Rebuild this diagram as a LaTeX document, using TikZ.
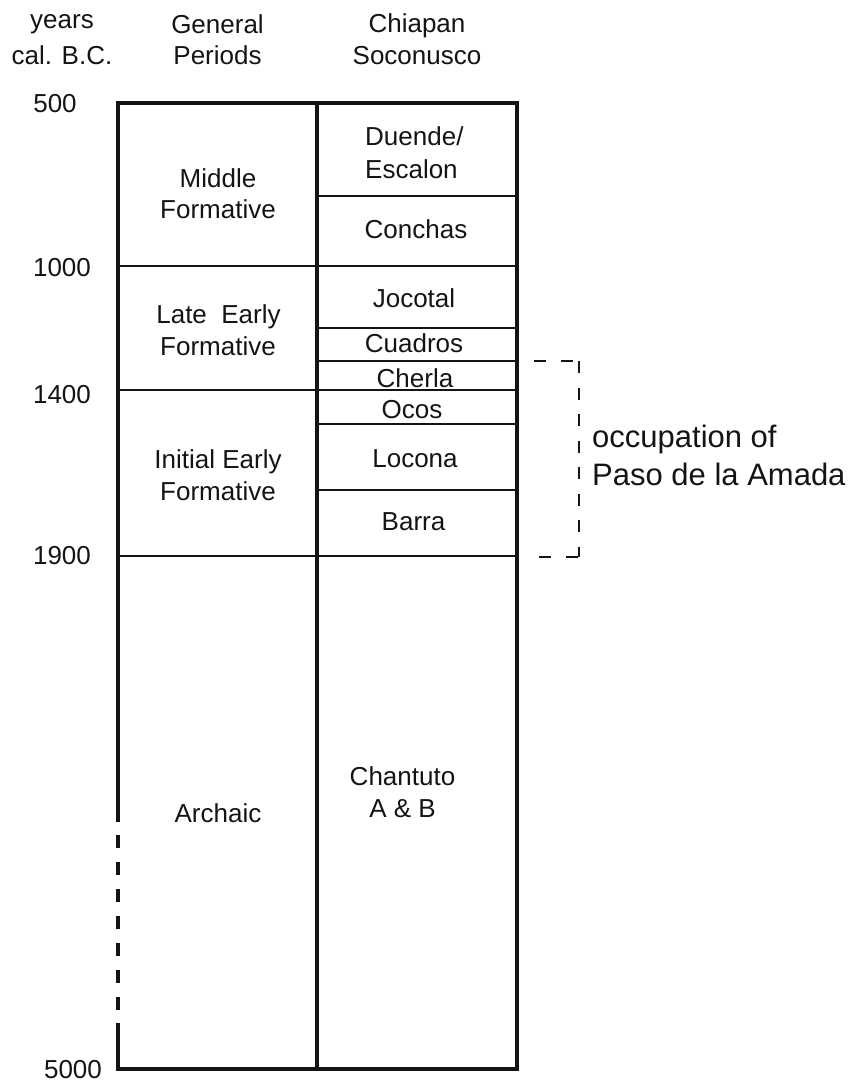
\documentclass[tikz,border=0pt]{standalone}
\usepackage{fontspec}
\setmainfont{Liberation Sans}
\begin{document}
\begin{tikzpicture}[x=1pt,y=-1pt,
  frame/.style={line width=4pt, line join=miter, black!92},
  rule/.style={line width=2pt, black!92},
  dashedframe/.style={line width=4pt, black!92, dash pattern=on 13pt off 14pt},
  bracketline/.style={line width=2pt, black!92, dash pattern=on 12pt off 14.5pt},
  lbl/.style={font=\fontsize{26pt}{31pt}\selectfont, inner sep=0pt, anchor=base, text=black!92},
  biglbl/.style={font=\fontsize{31pt}{38pt}\selectfont, inner sep=0pt, anchor=base west, text=black!92}]
\useasboundingbox (0,0) rectangle (859,1084);
% frame coordinates
\coordinate (TL) at (118,103);
\coordinate (TM) at (317,103);
\coordinate (TR) at (517,103);
\coordinate (BL) at (118,1069);
\coordinate (BM) at (317,1069);
\coordinate (BR) at (517,1069);
\coordinate (solidEnd) at (118,822);
\coordinate (dashStart) at (118,835);
\coordinate (dashEnd) at (118,1010);
\coordinate (solidStart) at (118,1023);
% thin full-width rules
\draw[rule] (118,266) -- (517,266);
\draw[rule] (118,390) -- (517,390);
\draw[rule] (118,556) -- (517,556);
% thin rules in right column
\draw[rule] (317,196) -- (517,196);
\draw[rule] (317,328) -- (517,328);
\draw[rule] (317,361) -- (517,361);
\draw[rule] (317,424) -- (517,424);
\draw[rule] (317,490) -- (517,490);
% thick frame
\draw[frame] (solidEnd) -- (TL) -- (TR) -- (BR) -- (BL) -- (solidStart);
\draw[frame] (TM) -- (BM);
\draw[dashedframe] (dashStart) -- (dashEnd);
% bracket
\coordinate (brTopL) at (534,361);
\coordinate (brTopR) at (579,361);
\coordinate (brBotR) at (579,557);
\coordinate (brBotL) at (539,557);
\draw[bracketline] (brTopL) -- (brTopR);
\draw[bracketline] (brTopR) -- (brBotR);
\draw[bracketline] (brBotL) -- (brBotR);
% headers
\node[lbl] (hyears) at (62,28.5) {years};
\node[lbl] (hcal) at (62,64) {cal. B.C.};
\node[lbl] (hgen) at (217.5,33) {General};
\node[lbl] (hper) at (217.5,64) {Periods};
\node[lbl] (hchi) at (417,32) {Chiapan};
\node[lbl] (hsoc) at (417,64) {Soconusco};
% year labels
\node[lbl] (y500) at (55,112) {500};
\node[lbl] (y1000) at (62,276) {1000};
\node[lbl] (y1400) at (62,403) {1400};
\node[lbl] (y1900) at (62,564) {1900};
\node[lbl] (y5000) at (73,1078) {5000};
% general periods
\node[lbl] (mf1) at (218,187) {Middle};
\node[lbl] (mf2) at (218,218) {Formative};
\node[lbl] (lef1) at (218.5,323) {Late~~Early};
\node[lbl] (lef2) at (218,355) {Formative};
\node[lbl] (ief1) at (218,468) {Initial Early};
\node[lbl] (ief2) at (218,500) {Formative};
\node[lbl] (arch) at (218,822) {Archaic};
% Chiapan Soconusco phases
\node[lbl, anchor=base west] (due1) at (365,145) {Duende/};
\node[lbl, anchor=base west] (due2) at (365,178) {Escalon};
\node[lbl] (con) at (416,238) {Conchas};
\node[lbl] (joc) at (414,307) {Jocotal};
\node[lbl] (cua) at (414,352) {Cuadros};
\node[lbl] (che) at (415,387) {Cherla};
\node[lbl] (oco) at (412,418) {Ocos};
\node[lbl] (loc) at (415,467) {Locona};
\node[lbl] (bar) at (413.5,530) {Barra};
\node[lbl] (cha1) at (402.5,785) {Chantuto};
\node[lbl] (cha2) at (402.5,817) {A \& B};
% bracket label
\node[biglbl] (occ1) at (592,447) {occupation of};
\node[biglbl] (occ2) at (592,485) {Paso de la Amada};
\end{tikzpicture}
\end{document}
